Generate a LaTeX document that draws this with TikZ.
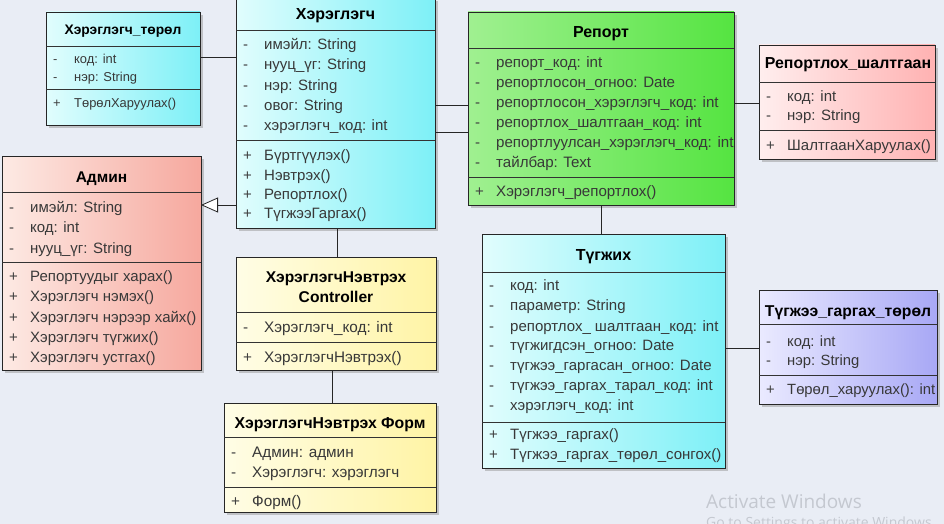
\documentclass[tikz,border=0pt]{standalone}
\usepackage{fontspec}
\setmainfont{Liberation Sans}
\newfontfamily\wmfamily{Open Sans}
\usetikzlibrary{arrows.meta,shadows}

\definecolor{canvas}{RGB}{233,237,245}
\definecolor{cyanL}{RGB}{225,253,253}
\definecolor{cyanR}{RGB}{125,240,247}
\definecolor{greenL}{RGB}{160,240,145}
\definecolor{greenR}{RGB}{85,228,65}
\definecolor{pinkL}{RGB}{255,238,238}
\definecolor{pinkR}{RGB}{255,178,178}
\definecolor{salmonL}{RGB}{253,234,228}
\definecolor{salmonR}{RGB}{246,168,158}
\definecolor{yelL}{RGB}{255,253,230}
\definecolor{yelR}{RGB}{255,244,165}
\definecolor{violL}{RGB}{234,234,255}
\definecolor{violR}{RGB}{168,168,245}
\definecolor{wmgray}{RGB}{196,200,208}

% fonts used inside the class boxes (sizes change from box to box)
\newcommand\boxfont{\fontsize{15}{20}\selectfont}
\newcommand\titlefont{\fontsize{15.8}{20}\selectfont\bfseries}
\newcommand\setboxfont[2]{%
  \renewcommand\boxfont{\fontsize{#1}{20}\selectfont}%
  \renewcommand\titlefont{\fontsize{#2}{20}\selectfont\bfseries}}

\tikzset{
  classbox/.style={draw=black!85, line width=0.9pt, inner sep=0pt, outer sep=0pt,
    drop shadow={shadow xshift=3pt, shadow yshift=-3pt, fill=black!45, opacity=0.45}},
  divider/.style={draw=black!80, line width=0.8pt},
  classtitle/.style={font=\titlefont, text=black, anchor=base, inner sep=0pt, align=center},
  vismark/.style={font=\boxfont, text=black!75, anchor=base west, inner sep=0pt},
  membertext/.style={font=\boxfont, text=black!78, anchor=base west, inner sep=0pt},
  assoc/.style={draw=black!85, line width=0.8pt},
  generalization/.style={assoc, -{Triangle[length=17pt, width=15pt, fill=white, line width=0.8pt]}},
}

% class rectangle: name, x1, y1, x2, y2, left colour, right colour
\newcommand\umlclass[7]{%
  \node[classbox, left color=#6, right color=#7,
        minimum width={(#4-#2)*1pt}, minimum height={(#5-#3)*1pt}]
        (#1) at ({(#2+#4)/2},{(#3+#5)/2}) {};}
% horizontal compartment line across a class at height #2
\newcommand\divider[2]{\draw[divider] (#1.west |- 0,#2) -- (#1.east |- 0,#2);}
% class name: node name, centre x, centre y of its last line, text
\newcommand\classname[4]{\node[classtitle] (#1) at (#2,#3+5.5) {#4};}
% member row: node name, box left x, row centre y, visibility, text
\newcommand\member[5]{%
  \node[vismark] (#1-v) at (#2+7,#3+5.5) {#4};
  \node[membertext] (#1) at (#2+28,#3+5.5) {#5};}

\begin{document}
\begin{tikzpicture}[x=1pt, y=-1pt]
\useasboundingbox (0,0) rectangle (944,524);
\fill[canvas] (0,0) rectangle (944,524);
\clip (0,0) rectangle (944,524);

% ---------- Хэрэглэгч_төрөл ----------
\setboxfont{12.9}{13.8}
\umlclass{utype}{46}{12}{200}{125}{cyanL}{cyanR}
\classname{utype-n}{123}{29}{Хэрэглэгч\_төрөл}
\divider{utype}{46}
\member{utype-a1}{46}{58}{-}{код: int}
\member{utype-a2}{46}{76}{-}{нэр: String}
\divider{utype}{89}
\member{utype-m1}{46}{102}{+}{ТөрөлХаруулах()}

% ---------- Хэрэглэгч ----------
\setboxfont{15}{16}
\umlclass{usr}{236}{-2}{435}{228}{cyanL}{cyanR}
\classname{usr-n}{335.5}{14}{Хэрэглэгч}
\divider{usr}{30}
\member{usr-a1}{236}{44}{-}{имэйл: String}
\member{usr-a2}{236}{64}{-}{нууц\_үг: String}
\member{usr-a3}{236}{85}{-}{нэр: String}
\member{usr-a4}{236}{105}{-}{овог: String}
\member{usr-a5}{236}{125}{-}{хэрэглэгч\_код: int}
\divider{usr}{140}
\member{usr-m1}{236}{155}{+}{Бүртгүүлэх()}
\member{usr-m2}{236}{175}{+}{Нэвтрэх()}
\member{usr-m3}{236}{194}{+}{Репортлох()}
\member{usr-m4}{236}{213}{+}{ТүгжээГаргах()}

% ---------- Репорт ----------
\setboxfont{15.1}{16}
\umlclass{rep}{468}{12}{734}{205}{greenL}{greenR}
\classname{rep-n}{601}{32}{Репорт}
\divider{rep}{48}
\member{rep-a1}{468}{62}{-}{репорт\_код: int}
\member{rep-a2}{468}{82}{-}{репортлосон\_огноо: Date}
\member{rep-a3}{468}{102}{-}{репортлосон\_хэрэглэгч\_код: int}
\member{rep-a4}{468}{122}{-}{репортлох\_шалтгаан\_код: int}
\member{rep-a5}{468}{142}{-}{репортлуулсан\_хэрэглэгч\_код: int}
\member{rep-a6}{468}{162}{-}{тайлбар: Text}
\divider{rep}{177}
\member{rep-m1}{468}{191}{+}{Хэрэглэгч\_репортлох()}

% ---------- Репортлох_шалтгаан ----------
\setboxfont{15}{15.9}
\umlclass{reason}{759}{45}{935}{159}{pinkL}{pinkR}
\classname{reason-n}{848}{63}{Репортлох\_шалтгаан}
\divider{reason}{82}
\member{reason-a1}{759}{96}{-}{код: int}
\member{reason-a2}{759}{115}{-}{нэр: String}
\divider{reason}{130}
\member{reason-m1}{759}{145}{+}{ШалтгаанХаруулах()}

% ---------- Админ ----------
\setboxfont{15}{15.5}
\umlclass{admin}{2}{156}{201}{370}{salmonL}{salmonR}
\classname{admin-n}{101.5}{177}{Админ}
\divider{admin}{192}
\member{admin-a1}{2}{207}{-}{имэйл: String}
\member{admin-a2}{2}{227}{-}{код: int}
\member{admin-a3}{2}{248}{-}{нууц\_үг: String}
\divider{admin}{262}
\member{admin-m1}{2}{276}{+}{Репортуудыг харах()}
\member{admin-m2}{2}{296}{+}{Хэрэглэгч нэмэх()}
\member{admin-m3}{2}{317}{+}{Хэрэглэгч нэрээр хайх()}
\member{admin-m4}{2}{337}{+}{Хэрэглэгч түгжих()}
\member{admin-m5}{2}{357}{+}{Хэрэглэгч устгах()}

% ---------- ХэрэглэгчНэвтрэх Controller ----------
\setboxfont{15.3}{15.6}
\umlclass{ctrl}{236}{257}{436}{370}{yelL}{yelR}
\classname{ctrl-n}{336}{297}{ХэрэглэгчНэвтрэх\\Controller}
\divider{ctrl}{312}
\member{ctrl-a1}{236}{327}{-}{Хэрэглэгч\_код: int}
\divider{ctrl}{342}
\member{ctrl-m1}{236}{357}{+}{ХэрэглэгчНэвтрэх()}

% ---------- ХэрэглэгчНэвтрэх Форм ----------
\setboxfont{15.3}{15.8}
\umlclass{form}{224}{403}{436}{512}{yelL}{yelR}
\classname{form-n}{330}{423}{ХэрэглэгчНэвтрэх Форм}
\divider{form}{437}
\member{form-a1}{224}{452}{-}{Админ: админ}
\member{form-a2}{224}{472}{-}{Хэрэглэгч: хэрэглэгч}
\divider{form}{487}
\member{form-m1}{224}{501}{+}{Форм()}

% ---------- Түгжих ----------
\setboxfont{15}{16}
\umlclass{lock}{482}{234}{725}{468}{cyanL}{cyanR}
\classname{lock-n}{603.5}{255}{Түгжих}
\divider{lock}{272}
\member{lock-a1}{482}{285}{-}{код: int}
\member{lock-a2}{482}{305}{-}{параметр: String}
\member{lock-a3}{482}{326}{-}{репортлох\_ шалтгаан\_код: int}
\member{lock-a4}{482}{345}{-}{түгжигдсэн\_огноо: Date}
\member{lock-a5}{482}{365}{-}{түгжээ\_гаргасан\_огноо: Date}
\member{lock-a6}{482}{385}{-}{түгжээ\_гаргах\_тарал\_код: int}
\member{lock-a7}{482}{405}{-}{хэрэглэгч\_код: int}
\divider{lock}{422}
\member{lock-m1}{482}{434}{+}{Түгжээ\_гаргах()}
\member{lock-m2}{482}{454}{+}{Түгжээ\_гаргах\_төрөл\_сонгох()}

% ---------- Түгжээ_гаргах_төрөл ----------
\setboxfont{14.8}{15.7}
\umlclass{ltype}{759}{290}{937}{404}{violL}{violR}
\classname{ltype-n}{848}{311}{Түгжээ\_гаргах\_төрөл}
\divider{ltype}{324}
\member{ltype-a1}{759}{341}{-}{код: int}
\member{ltype-a2}{759}{360}{-}{нэр: String}
\divider{ltype}{375}
\member{ltype-m1}{759}{389}{+}{Төрөл\_харуулах(): int}

% ---------- connectors ----------
\draw[assoc] (utype.east |- 0,57) -- (usr.west |- 0,57);
\draw[assoc] (usr.east |- 0,105) -- (rep.west |- 0,105);
\draw[assoc] (usr.east |- 0,132) -- (rep.west |- 0,132);
\draw[generalization] (usr.west |- 0,205) -- (admin.east |- 0,205);
\draw[assoc] (usr.south -| 337,0) -- (ctrl.north -| 337,0);
\draw[assoc] (ctrl.south -| 332,0) -- (form.north -| 332,0);
\draw[assoc] (rep.east |- 0,103) -- (reason.west |- 0,103);
\draw[assoc] (rep.south -| 601,0) -- (lock.north -| 601,0);
\draw[assoc] (lock.east |- 0,348) -- (ltype.west |- 0,348);

% ---------- system watermark ----------
\node[anchor=base west, inner sep=0pt, text=wmgray, font=\wmfamily\fontsize{19}{22}\selectfont] (wm1) at (706,508) {Activate Windows};
\node[anchor=base west, inner sep=0pt, text=wmgray, font=\wmfamily\fontsize{14}{16}\selectfont] (wm2) at (706,527) {Go to Settings to activate Windows.};
\end{tikzpicture}
\end{document}
